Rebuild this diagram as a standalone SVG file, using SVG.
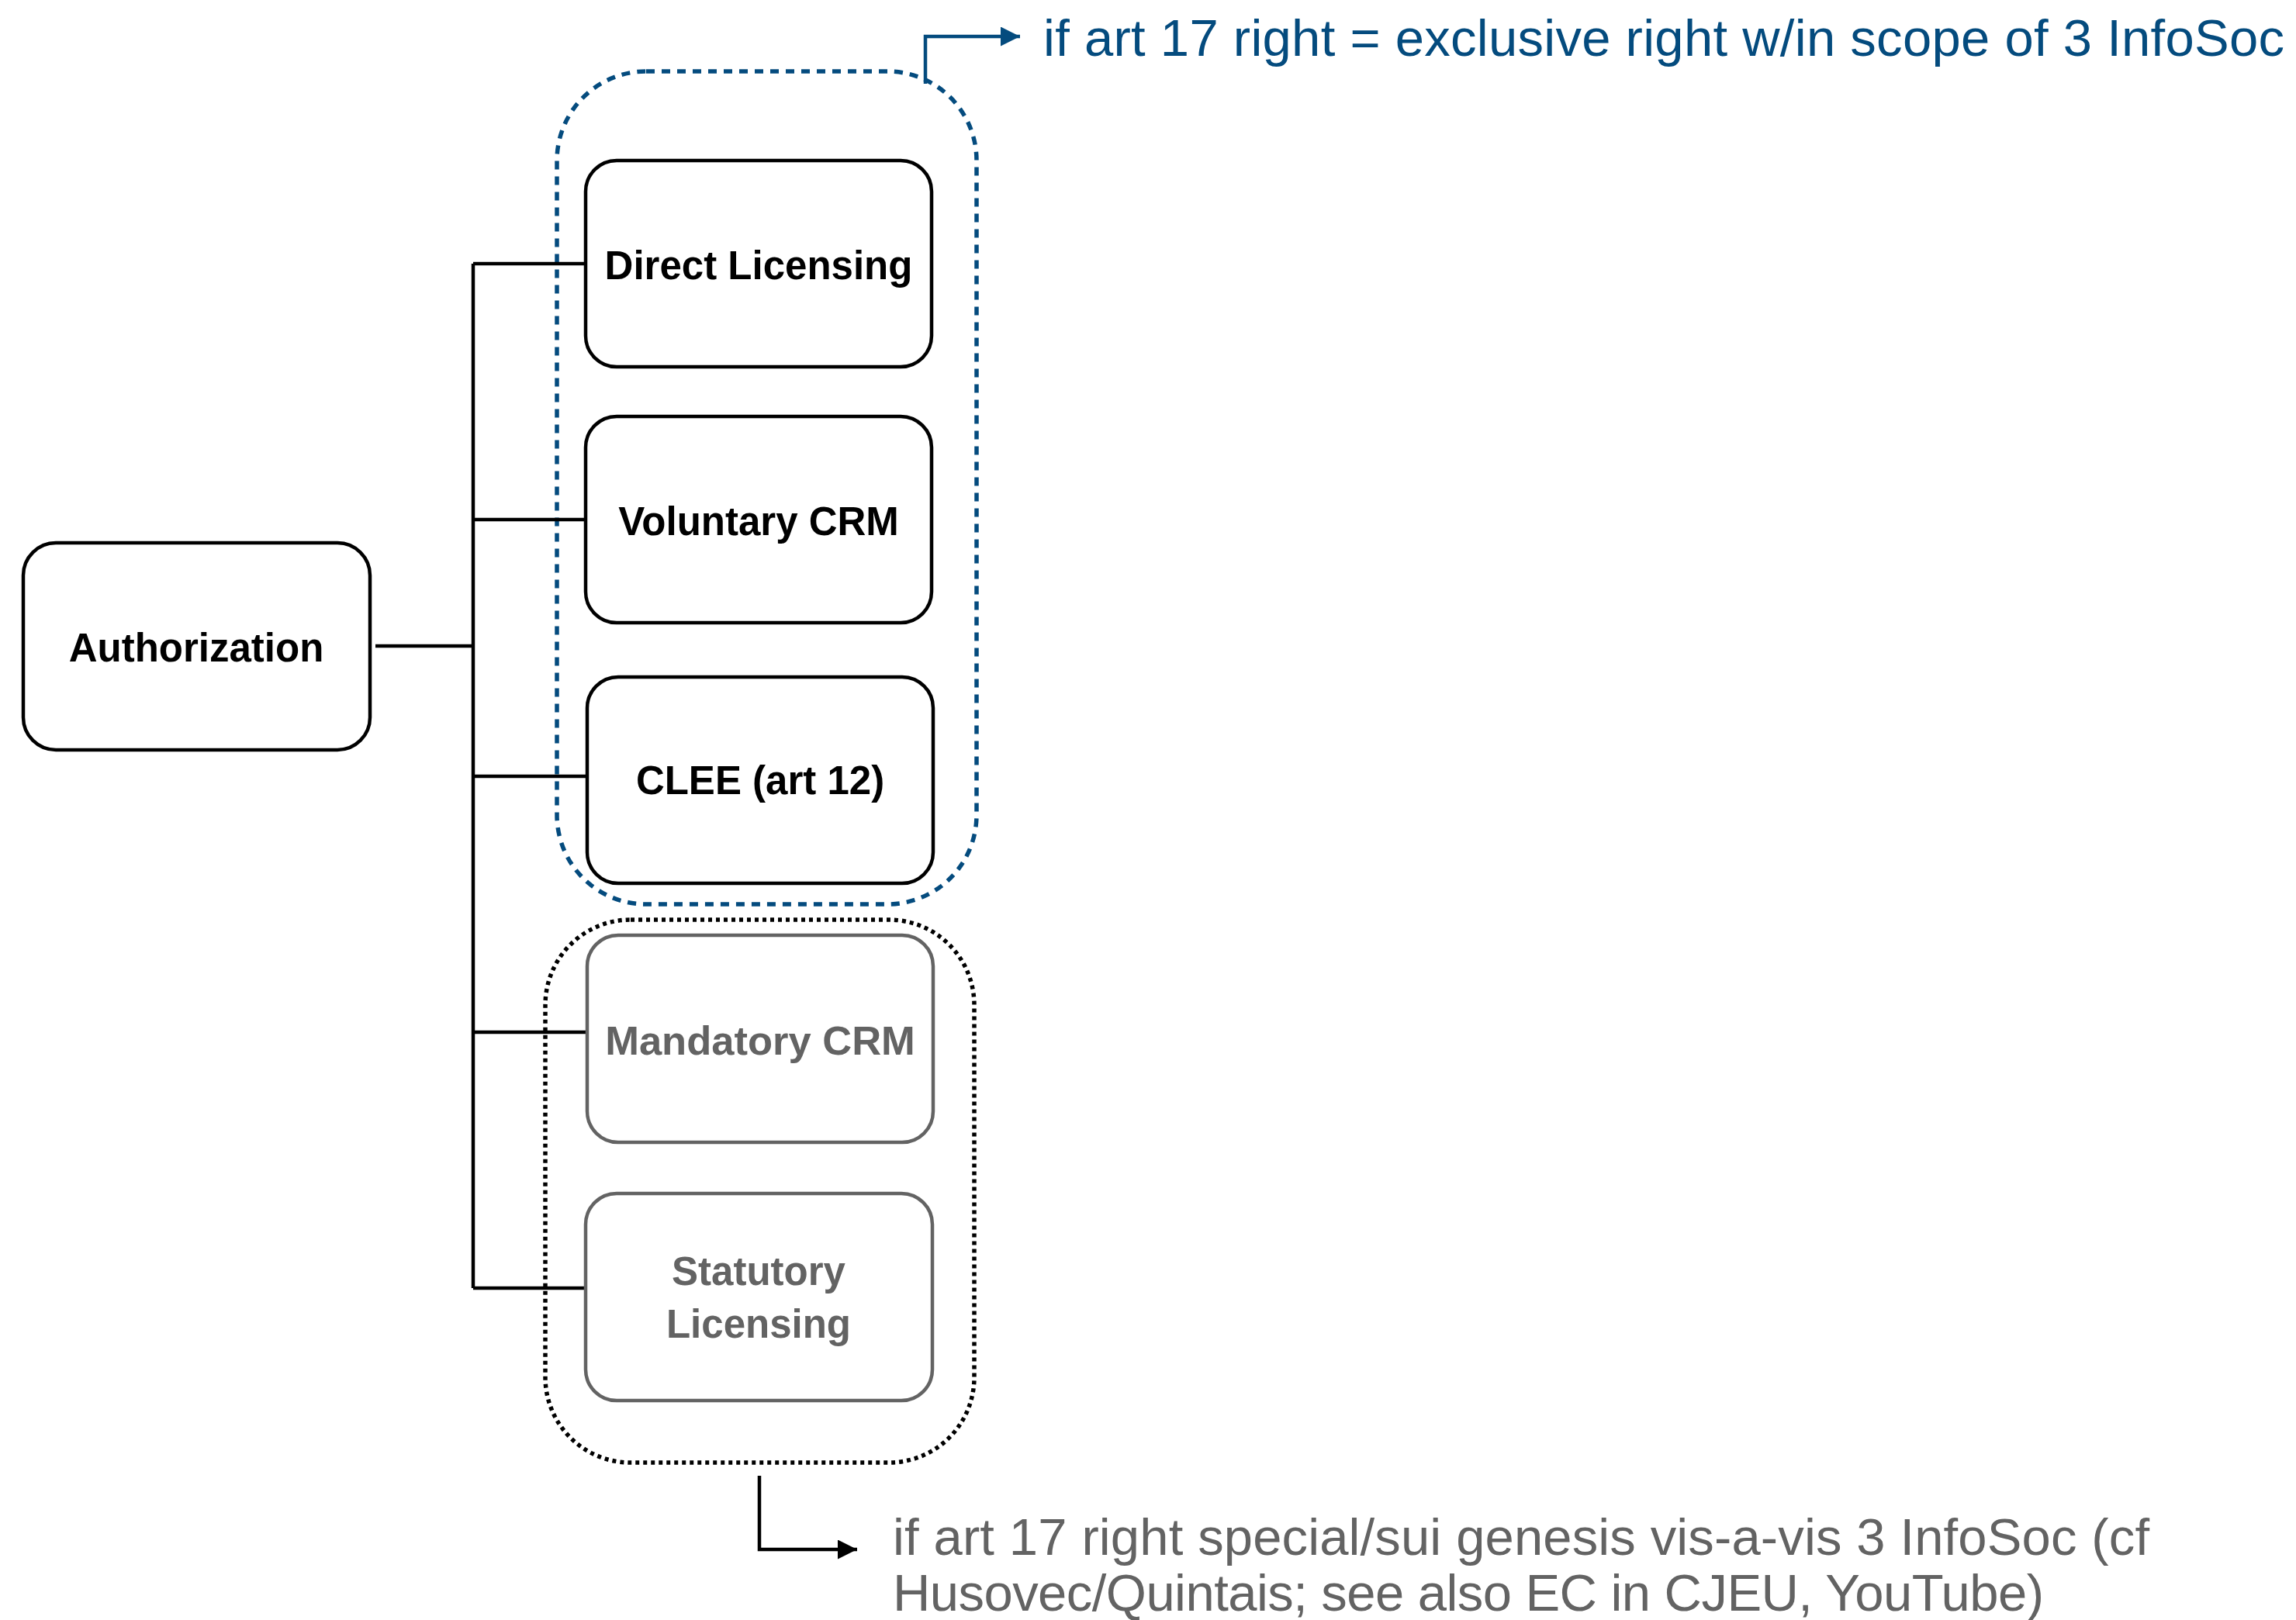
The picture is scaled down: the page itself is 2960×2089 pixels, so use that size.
<svg xmlns="http://www.w3.org/2000/svg" width="2960" height="2089" viewBox="0 0 2960 2089">
<defs>
<style>
.node{fill:#ffffff;stroke:#000000;stroke-width:4.5}
.gnode{fill:#ffffff;stroke:#636363;stroke-width:4.5}
.lbl{font-family:"Liberation Sans",Arial,Helvetica,sans-serif;font-size:51px;font-weight:bold;text-anchor:middle;fill:#000000}
.glbl{fill:#636363}
.conn{fill:none;stroke:#000000;stroke-width:4.5}
.note{font-family:"Liberation Sans",Arial,Helvetica,sans-serif;font-size:67px}
</style>
<marker id="ab" markerWidth="26" markerHeight="26" refX="25" refY="12.5" orient="auto" markerUnits="userSpaceOnUse">
<path d="M0,0 L25,12.5 L0,25 Z" fill="#000000"/>
</marker>
<marker id="au" markerWidth="26" markerHeight="26" refX="25" refY="12.5" orient="auto" markerUnits="userSpaceOnUse">
<path d="M0,0 L25,12.5 L0,25 Z" fill="#044b7e"/>
</marker>
</defs>
<rect width="2960" height="2089" fill="#ffffff"/>

<g id="group-exclusive">
<rect x="718" y="92" width="541" height="1074" rx="115" ry="115" fill="none" stroke="#044b7e" stroke-width="5.5" stroke-dasharray="11 9"/>
</g>
<g id="group-special">
<rect x="703" y="1186" width="553" height="700" rx="110" ry="110" fill="none" stroke="#000000" stroke-width="5.5" stroke-dasharray="5 5"/>
</g>

<g id="connectors">
<path class="conn" d="M484,833 H610"/>
<path class="conn" d="M610,340 V1661"/>
<path class="conn" d="M610,340 H755"/>
<path class="conn" d="M610,670 H755"/>
<path class="conn" d="M610,1001 H755"/>
<path class="conn" d="M610,1331 H755"/>
<path class="conn" d="M610,1661 H755"/>
<path d="M1193,108 V47 H1315" fill="none" stroke="#044b7e" stroke-width="4.5" marker-end="url(#au)"/>
<path d="M979,1903 V1998 H1105" fill="none" stroke="#000000" stroke-width="4.5" marker-end="url(#ab)"/>
</g>

<g id="node-authorization">
<rect class="node" x="30" y="700" width="447" height="267" rx="42" ry="42"/>
<text class="lbl" x="253" y="853">Authorization</text>
</g>
<g id="node-direct-licensing">
<rect class="node" x="755" y="207" width="446" height="266" rx="40" ry="40"/>
<text class="lbl" x="978" y="360">Direct Licensing</text>
</g>
<g id="node-voluntary-crm">
<rect class="node" x="755" y="537" width="446" height="266" rx="40" ry="40"/>
<text class="lbl" x="978" y="690">Voluntary CRM</text>
</g>
<g id="node-clee">
<rect class="node" x="757" y="873" width="446" height="266" rx="40" ry="40"/>
<text class="lbl" x="980" y="1024">CLEE (art 12)</text>
</g>
<g id="node-mandatory-crm">
<rect class="gnode" x="757" y="1206" width="446" height="267" rx="40" ry="40"/>
<text class="lbl glbl" x="980" y="1360" style="font-size:52.5px">Mandatory CRM</text>
</g>
<g id="node-statutory-licensing">
<rect class="gnode" x="755" y="1539" width="447" height="267" rx="40" ry="40"/>
<text class="lbl glbl" x="978" y="1657">Statutory</text>
<text class="lbl glbl" x="978" y="1725">Licensing</text>
</g>

<g id="note-exclusive">
<text class="note" x="1345" y="72" fill="#044b7e" textLength="1600" lengthAdjust="spacing">if art 17 right = exclusive right w/in scope of 3 InfoSoc</text>
</g>
<g id="note-special">
<text class="note" x="1151" y="2005" fill="#636363" textLength="1620" lengthAdjust="spacing">if art 17 right special/sui genesis vis-a-vis 3 InfoSoc (cf</text>
<text class="note" x="1151" y="2077" fill="#636363" textLength="1484" lengthAdjust="spacing">Husovec/Quintais; see also EC in CJEU, YouTube)</text>
</g>
</svg>
